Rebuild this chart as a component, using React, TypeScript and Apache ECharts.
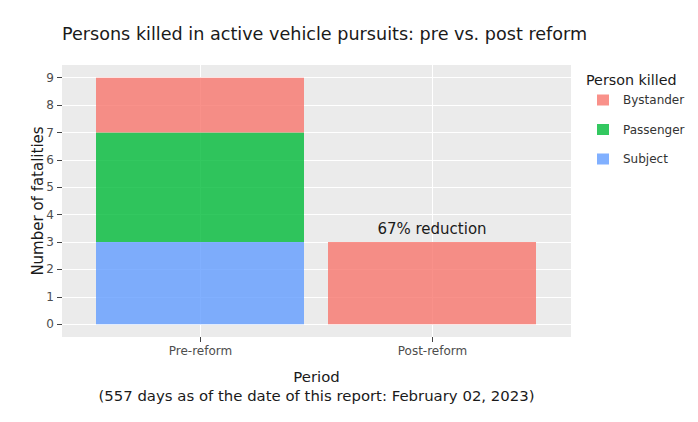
import React, { useEffect, useRef } from "react";
import * as echarts from "echarts";

const periods = ["Pre-reform", "Post-reform"];
const subject = [3, 0];
const passenger = [4, 0];
const bystander = [2, 3];
const legendOrder = ["Bystander", "Passenger", "Subject"];
const yTicks = [0, 1, 2, 3, 4, 5, 6, 7, 8, 9];
const annotationText = "67% reduction";

const FONT = "DejaVu Sans";
const Y_MIN = -0.4636;
const Y_MAX = 9.4636;

export default function App() {
  const ref = useRef<HTMLDivElement>(null);
  useEffect(() => {
    if (!ref.current) return;
    const chart = echarts.init(ref.current, null, { renderer: "svg" });
    const xIdx = periods.map((_, i) => i);
    const mk = (name: string, vals: number[], color: string, withLabel = false) => ({
      name,
      type: "bar",
      stack: "total",
      xAxisIndex: 1,
      yAxisIndex: 1,
      barWidth: 208,
      itemStyle: { color },
      data: vals.map((v, i) => {
        const item: any = { value: v };
        if (withLabel && i === 1) {
          item.label = {
            show: true,
            position: "top",
            distance: 6,
            formatter: annotationText,
            fontFamily: FONT,
            fontSize: 15,
            color: "#1a1a1a",
          };
        }
        return item;
      }),
    });
    chart.setOption({
      animation: false,
      textStyle: { fontFamily: FONT },
      title: [
        {
          text: "Persons killed in active vehicle pursuits: pre vs. post reform",
          left: 62,
          top: 25,
          padding: 0,
          textStyle: { fontFamily: FONT, fontSize: 17.6, fontWeight: "normal", color: "#1a1a1a" },
        },
        {
          text: "Person killed",
          left: 586,
          top: 73,
          padding: 0,
          textStyle: { fontFamily: FONT, fontSize: 14.3, fontWeight: "normal", color: "#1a1a1a" },
        },
      ],
      legend: {
        data: legendOrder,
        orient: "vertical",
        left: 597,
        top: 94,
        padding: 0,
        itemWidth: 12,
        itemHeight: 11,
        itemGap: 17.5,
        icon: "rect",
        textStyle: { fontFamily: FONT, fontSize: 12, color: "#333", padding: [0, 0, 0, 9] },
      },
      grid: [
        {
          left: 62,
          right: 127,
          top: 65,
          bottom: 85,
          show: true,
          backgroundColor: "#EBEBEB",
          borderWidth: 0,
        },
        {
          left: 84,
          right: 150,
          top: 65,
          bottom: 85,
          show: false,
        },
      ],
      xAxis: [
        {
          type: "value",
          gridIndex: 0,
          min: -0.597,
          max: 1.597,
          name: "Period\n(557 days as of the date of this report: February 02, 2023)",
          nameLocation: "middle",
          nameGap: 30,
          nameMoveOverlap: false,
          nameTextStyle: { fontFamily: FONT, fontSize: 14.9, color: "#1a1a1a", lineHeight: 19 },
          axisLine: { show: false, onZero: false },
          axisTick: { show: true, customValues: xIdx, length: 5, lineStyle: { color: "#444" } },
          axisLabel: {
            customValues: xIdx,
            formatter: (v: number) => periods[Math.round(v)] ?? "",
            fontFamily: FONT,
            fontSize: 12,
            color: "#4d4d4d",
            margin: 8,
          },
          splitLine: { show: true, lineStyle: { color: "#ffffff", width: 1 } },
        },
        {
          type: "category",
          gridIndex: 1,
          data: periods,
          boundaryGap: true,
          show: false,
        },
      ],
      yAxis: [
        {
          type: "value",
          gridIndex: 0,
          min: Y_MIN,
          max: Y_MAX,
          name: "Number of fatalities",
          nameLocation: "middle",
          nameRotate: 90,
          nameGap: 17,
          nameMoveOverlap: false,
          nameTextStyle: { fontFamily: FONT, fontSize: 15, color: "#1a1a1a" },
          axisLine: { show: false, onZero: false },
          axisTick: { show: true, customValues: yTicks, length: 5, lineStyle: { color: "#444" } },
          axisLabel: {
            customValues: yTicks,
            fontFamily: FONT,
            fontSize: 12,
            color: "#4d4d4d",
            margin: 8,
          },
          splitLine: { show: true, lineStyle: { color: "#ffffff", width: 1 } },
        },
        {
          type: "value",
          gridIndex: 1,
          min: Y_MIN,
          max: Y_MAX,
          show: false,
          splitLine: { show: false },
        },
      ],
      series: [
        mk("Subject", subject, "rgba(97,156,255,0.8)"),
        mk("Passenger", passenger, "rgba(0,186,56,0.8)"),
        mk("Bystander", bystander, "rgba(248,118,109,0.8)", true),
      ],
    });
    return () => chart.dispose();
  }, []);
  return <div ref={ref} style={{ width: 698, height: 422, position: "absolute", left: 0, top: 0 }} />;
}
